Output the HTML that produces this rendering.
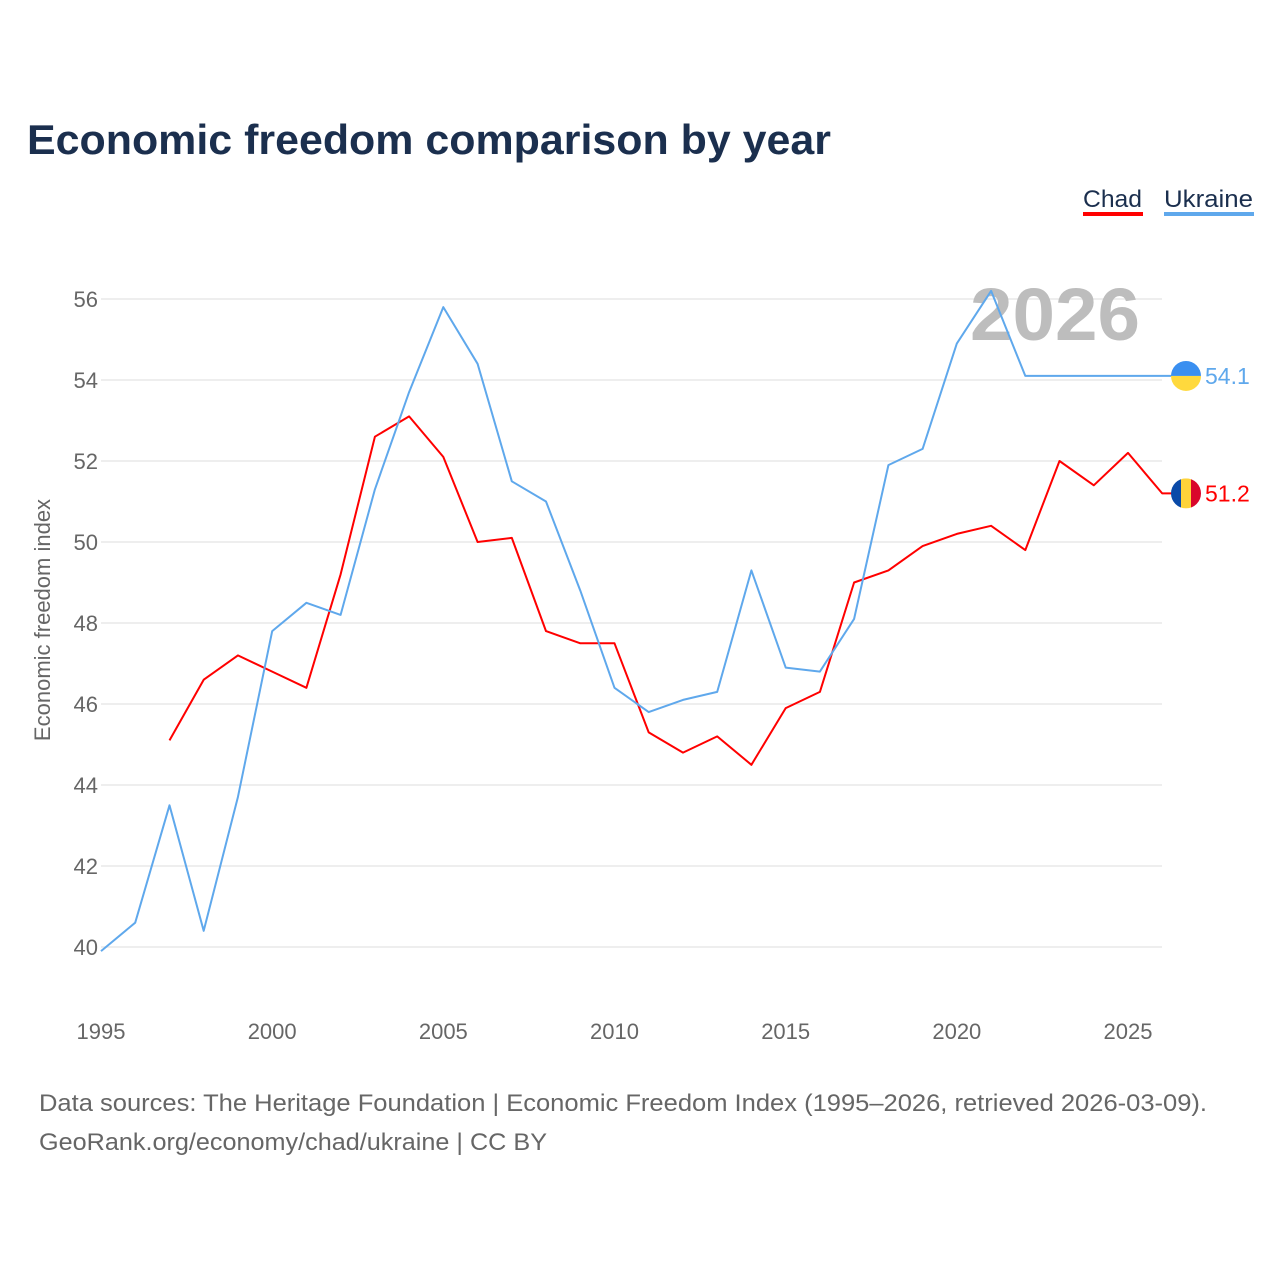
<!DOCTYPE html>
<html><head><meta charset="utf-8"><style>
html,body{margin:0;padding:0;background:#fff;}
svg{display:block;font-family:"Liberation Sans",sans-serif;}
</style></head><body>
<svg id="chart" width="1280" height="1280" viewBox="0 0 1280 1280" xmlns="http://www.w3.org/2000/svg">
<text x="27" y="154" font-size="42" font-weight="bold" fill="#1b2f4e" textLength="804" lengthAdjust="spacingAndGlyphs">Economic freedom comparison by year</text>
<g>
  <g>
    <text x="1083" y="207" font-size="24" fill="#1b2f4e" textLength="59" lengthAdjust="spacingAndGlyphs">Chad</text>
    <rect x="1083" y="212" width="60" height="4" fill="#ff0000"/>
  </g>
  <g>
    <text x="1164" y="207" font-size="24" fill="#1b2f4e" textLength="89" lengthAdjust="spacingAndGlyphs">Ukraine</text>
    <rect x="1164" y="212" width="90" height="4" fill="#5fa8ec"/>
  </g>
</g>
<g id="grid"></g>
<g id="yticks"></g>
<g id="xticks"></g>
<text x="970" y="340" font-size="74" font-weight="bold" fill="#bdbdbd" textLength="170" lengthAdjust="spacingAndGlyphs">2026</text>
<text transform="translate(50,620) rotate(-90)" text-anchor="middle" font-size="22" fill="#666">Economic freedom index</text>
<g id="lines"></g>
<g id="ends"></g>
<text x="39" y="1111" font-size="24" fill="#666" textLength="1168" lengthAdjust="spacingAndGlyphs">Data sources: The Heritage Foundation | Economic Freedom Index (1995–2026, retrieved 2026-03-09).</text>
<text x="39" y="1150" font-size="24" fill="#666" textLength="508" lengthAdjust="spacingAndGlyphs">GeoRank.org/economy/chad/ukraine | CC BY</text>
</svg>
<script>
const years = [1995,1996,1997,1998,1999,2000,2001,2002,2003,2004,2005,2006,2007,2008,2009,2010,2011,2012,2013,2014,2015,2016,2017,2018,2019,2020,2021,2022,2023,2024,2025,2026];
const ukraineValues = [39.9,40.6,43.5,40.4,43.7,47.8,48.5,48.2,51.3,53.7,55.8,54.4,51.5,51.0,48.8,46.4,45.8,46.1,46.3,49.3,46.9,46.8,48.1,51.9,52.3,54.9,56.2,54.1,54.1,54.1,54.1,54.1];
const chadValues = [null,null,45.1,46.6,47.2,46.8,46.4,49.2,52.6,53.1,52.1,50.0,50.1,47.8,47.5,47.5,45.3,44.8,45.2,44.5,45.9,46.3,49.0,49.3,49.9,50.2,50.4,49.8,52.0,51.4,52.2,51.2];
const yTicks = [40,42,44,46,48,50,52,54,56];
const xTicks = [1995,2000,2005,2010,2015,2020,2025];

const NS="http://www.w3.org/2000/svg";
function xS(v){return 101+(v-1995)*(1128-101)/30;}
function yS(v){return 947-(v-40)*(947-299)/16;}
function mk(tag,attrs,parent){const e=document.createElementNS(NS,tag);for(const k in attrs)e.setAttribute(k,attrs[k]);parent.appendChild(e);return e;}
const grid=document.getElementById('grid'),yt=document.getElementById('yticks'),xt=document.getElementById('xticks');
yTicks.forEach(t=>{
  const l=mk('line',{x1:101,x2:1162,y1:yS(t),y2:yS(t),stroke:'#e8e8e8','stroke-width':1.5},grid);
  
  
  const tx=mk('text',{x:98,y:yS(t)+8,'text-anchor':'end','font-size':22,fill:'#666'},yt);
  tx.textContent=t;
  
  
});
xTicks.forEach(t=>{
  const tx=mk('text',{x:xS(t),y:1039,'text-anchor':'middle','font-size':22,fill:'#666'},xt);
  tx.textContent=t;
  
  
});
const lines=document.getElementById('lines');
function series(vals,color,name){
  const pts=[];vals.forEach((v,i)=>{if(v!==null)pts.push(xS(years[i]).toFixed(1)+','+yS(v).toFixed(1));});
  const last=vals[vals.length-1];
  pts.push('1172,'+yS(last).toFixed(1));
  const p=mk('polyline',{points:pts.join(' '),fill:'none',stroke:color,'stroke-width':2,'stroke-linejoin':'round'},lines);
  
  
}
series(chadValues,'#ff0000','chad');
series(ukraineValues,'#5fa8ec','ukraine');
const ends=document.getElementById('ends');
const defs=mk('defs',{},ends);
const cp=mk('clipPath',{id:'cc'},defs);mk('circle',{cx:1186,cy:yS(chadValues[31]),r:15},cp);
const cu=mk('clipPath',{id:'cu'},defs);mk('circle',{cx:1186,cy:yS(ukraineValues[31]),r:15},cu);
const yu=yS(ukraineValues[31]), yc=yS(chadValues[31]);
const fu=mk('g',{'clip-path':'url(#cu)'},ends);


mk('rect',{x:1171,y:yu-15,width:30,height:15,fill:'#3a8ff0'},fu);
mk('rect',{x:1171,y:yu,width:30,height:15,fill:'#ffd93d'},fu);
const fc=mk('g',{'clip-path':'url(#cc)'},ends);


mk('rect',{x:1171,y:yc-15,width:10,height:30,fill:'#0a4aa8'},fc);
mk('rect',{x:1181,y:yc-15,width:10,height:30,fill:'#fed33a'},fc);
mk('rect',{x:1191,y:yc-15,width:10,height:30,fill:'#d9062b'},fc);
const lu=mk('text',{x:1205,y:yu+8,'font-size':23,fill:'#5fa8ec'},ends);
lu.textContent=ukraineValues[31].toFixed(1);


const lc=mk('text',{x:1205,y:yc+8,'font-size':23,fill:'#ff0000'},ends);
lc.textContent=chadValues[31].toFixed(1);


</script>
</body></html>
